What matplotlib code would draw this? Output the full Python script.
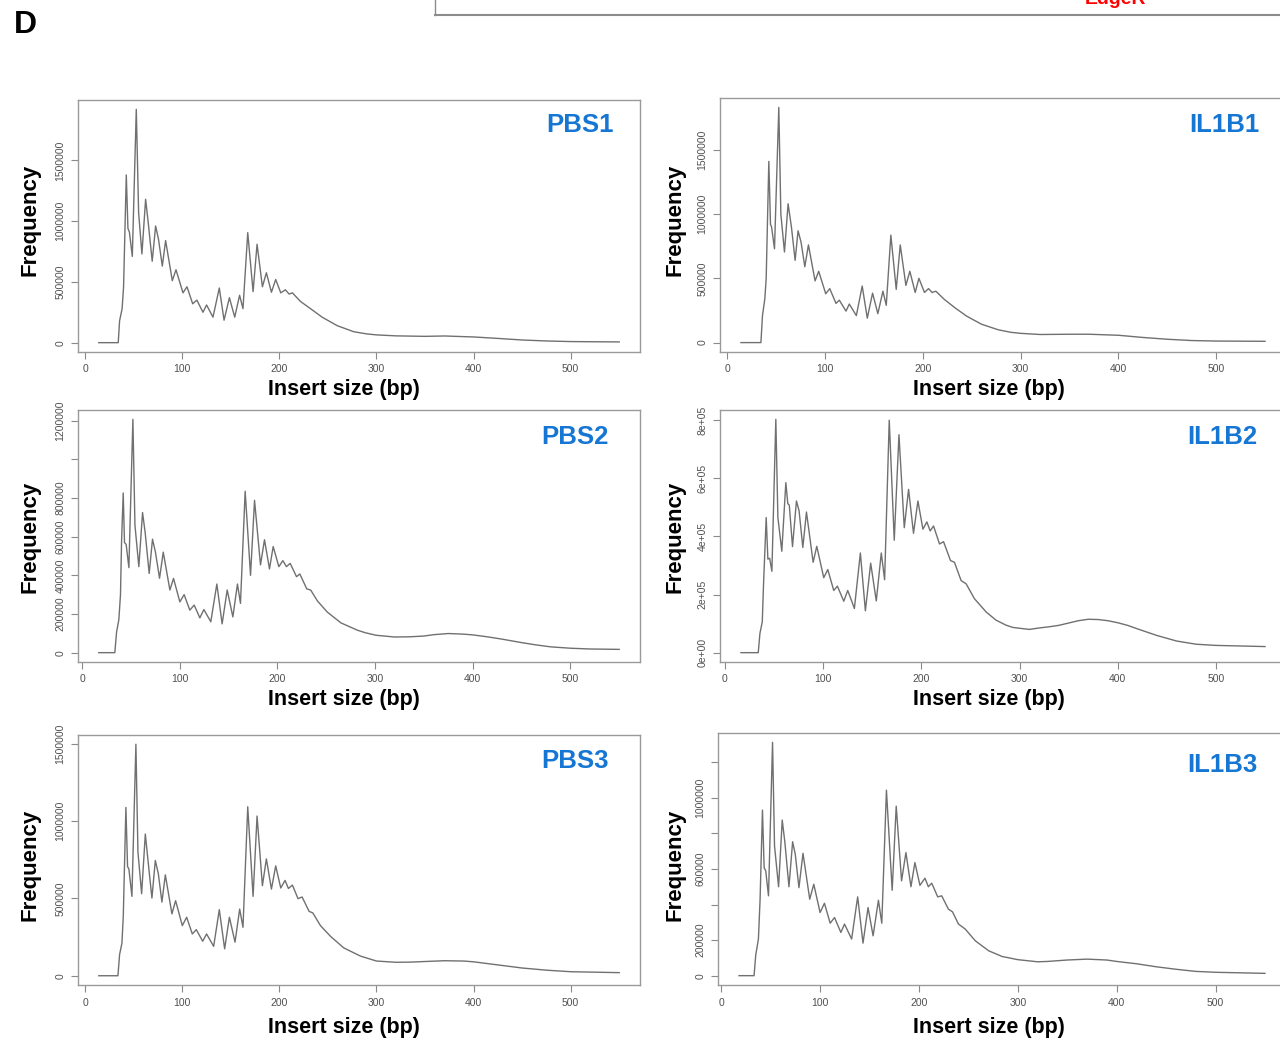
import matplotlib
matplotlib.use('Agg')
import matplotlib.pyplot as plt
from matplotlib.lines import Line2D

plt.rcParams['font.family'] = ['Liberation Sans', 'DejaVu Sans']

# insert size (bp) and frequency (thousands of fragments)
pbs1_bp = [14, 34, 35.4, 38, 39.5, 42.3, 44, 45.5, 48.5, 52.6, 55, 58.4, 62.2, 65, 69,
           72.5, 75.5, 79.4, 82.8, 89.7, 93.5, 100.7, 104.8, 110.7, 115, 121.3, 125, 131.6, 138.1, 143,
           148.5, 154, 159, 162.5, 167.4, 172.9, 177, 182.5, 186.6, 191.8, 196.2, 201.4, 206.2, 210, 213.4,
           221.6, 232, 244, 259.5, 276.6, 290, 300, 320, 350, 370, 400, 425, 450, 475, 500, 550]
pbs1_k = [0, 0, 180, 280, 460, 1380, 940, 910, 710, 1920, 1070, 730, 1180, 980, 670,
          960, 850, 630, 840, 510, 600, 410, 460, 320, 350, 250, 310, 210, 450, 185,
          370, 210, 390, 280, 905, 420, 810, 460, 575, 415, 520, 410, 435, 400, 410,
          340, 280, 210, 140, 90, 72, 64, 56, 52, 55, 47, 35, 22, 14, 9, 6]

il1b1_bp = [14, 34.4, 36, 38.4, 39.8, 42.5, 44.2, 45.3, 48.3, 52.7, 54.8, 58.5, 62.2, 65.6, 69.4,
            72.4, 75.5, 79.3, 83, 89.8, 93.5, 100.7, 104.8, 111.2, 114.6, 121.4, 124.8, 132, 138, 143.2,
            148.6, 154, 159.2, 162.6, 167.3, 172.8, 176.9, 182.7, 186.7, 192.2, 196, 201.7, 205.8, 209.5, 213.3,
            222, 233, 245, 260, 277, 290, 300, 320, 350, 370, 400, 425, 450, 475, 500, 550]
il1b1_k = [0, 0, 210, 340, 500, 1410, 920, 900, 730, 1830, 1000, 705, 1080, 900, 640,
           870, 780, 590, 760, 480, 555, 380, 420, 305, 330, 245, 300, 210, 440, 190,
           385, 225, 400, 290, 836, 414, 760, 445, 555, 390, 500, 390, 420, 390, 400,
           336, 270, 205, 143, 100, 80, 72, 63, 65, 65, 57, 40, 26, 16, 12, 10]

pbs2_bp = [17, 33.4, 35.2, 37.5, 39.2, 40.3, 42, 43.3, 45, 47.8, 51.9, 54, 58, 61.8, 64.5,
           68.6, 72, 75, 79.2, 83, 89.8, 93.5, 100, 104.4, 110.2, 114.7, 120.5, 124.6, 131.7, 137.9,
           143.3, 148.5, 154.3, 159, 162.1, 166.9, 172.4, 176.5, 182.6, 186.7, 191.8, 195.6, 201.4, 205.5, 209.2,
           213, 219.5, 222.9, 230, 234, 241, 251, 265, 282, 290, 301, 320, 335, 350, 360,
           375, 390, 400, 415, 430, 450, 465, 480, 500, 520, 550]
pbs2_k = [0, 0, 107, 170, 300, 575, 826, 570, 560, 440, 1207, 660, 445, 725, 620,
          410, 587, 520, 385, 520, 324, 384, 263, 300, 220, 246, 180, 223, 160, 355,
          149, 324, 185, 355, 255, 835, 400, 788, 454, 584, 433, 549, 445, 476, 445,
          462, 393, 407, 330, 324, 267, 210, 154, 116, 103, 90, 81, 82, 86, 93,
          99, 96, 92, 82, 70, 52, 40, 30, 23, 19, 17]

il1b2_bp = [16.3, 33.9, 35.6, 38, 39.3, 42, 43.7, 45.5, 47.8, 51.8, 53.9, 57.9, 62, 64, 65.5,
            68.8, 72.8, 75.5, 79.3, 83, 89.8, 93.5, 100.6, 104.7, 110.8, 114.5, 121, 125, 127.7, 131.8,
            137.9, 143, 148.4, 154.1, 159.2, 162.6, 167.3, 172.4, 177.2, 182.6, 187, 192, 196.5, 201.6, 205.6,
            209, 212.4, 218.5, 222.6, 229.7, 233.7, 240.5, 245.6, 254, 266, 276, 286, 293, 300, 310,
            320, 330, 340, 350, 360, 370, 380, 390, 400, 410, 420, 440, 460, 480, 500, 550]
il1b2_k = [0, 0, 66, 106, 237, 465, 322, 325, 280, 803, 465, 349, 585, 513, 508,
           365, 522, 488, 362, 484, 311, 366, 258, 286, 214, 229, 177, 214, 190, 152,
           343, 144, 308, 178, 343, 251, 800, 387, 750, 430, 562, 411, 522, 425, 450,
           419, 436, 374, 382, 317, 311, 248, 237, 186, 140, 112, 95, 87, 84, 80,
           85, 89, 94, 102, 110, 115, 114, 110, 103, 94, 82, 59, 40, 29, 25, 21]

pbs3_bp = [14, 33.7, 35.4, 37.8, 39.2, 41.9, 43.6, 45, 48.1, 52.2, 54.3, 58.1, 61.9, 64.6, 68.7,
           72.2, 75.3, 79, 82.5, 89.3, 93.1, 100, 104.5, 110.3, 114.4, 121, 125, 132.3, 138.1, 143.6,
           148.5, 154.3, 159.1, 162.5, 167.4, 172.9, 177, 182.5, 186.6, 191.8, 196.2, 201.4, 205.8, 209.3, 213.4,
           219.2, 223.4, 230.6, 234.4, 242.3, 252.6, 266.3, 283.5, 300, 320, 335, 350, 370, 390, 400,
           415, 430, 450, 475, 500, 550]
pbs3_k = [0, 0, 137, 210, 384, 1088, 706, 689, 513, 1496, 800, 530, 916, 749, 502,
          745, 660, 476, 652, 400, 485, 324, 378, 270, 298, 223, 270, 190, 427, 174,
          378, 217, 431, 313, 1092, 513, 1032, 582, 755, 560, 710, 567, 616, 564, 586,
          498, 509, 416, 406, 324, 255, 180, 127, 95, 87, 88, 92, 97, 95, 90,
          78, 66, 50, 36, 26, 20]

il1b3_bp = [18, 33.2, 34.9, 37.6, 39.3, 41.7, 43.4, 45, 47.8, 51.9, 53.9, 58, 61.7, 64.4, 68.5,
            72.2, 74.9, 78.6, 82.7, 89.5, 93.6, 100, 104.4, 110.2, 114.6, 121, 124.7, 131.9, 138, 143.4,
            148.5, 153.6, 159, 162.4, 167.1, 172.9, 177, 182.4, 186.8, 191.9, 195.9, 201, 206.1, 209.5, 212.9,
            219, 223, 229.8, 233.9, 240, 246.8, 257, 270.5, 284, 300, 310, 320, 330, 350, 370,
            390, 400, 420, 440, 460, 480, 500, 550]
il1b3_k = [0, 0, 116, 206, 430, 931, 607, 589, 449, 1312, 729, 500, 875, 748, 500,
           753, 682, 495, 688, 430, 514, 355, 407, 295, 327, 243, 290, 206, 443, 183,
           383, 224, 424, 295, 1043, 480, 953, 533, 692, 500, 636, 508, 548, 500, 520,
           443, 449, 374, 359, 290, 262, 196, 140, 108, 90, 84, 78, 80, 88, 93,
           88, 80, 67, 50, 36, 24, 19, 13]

x_ticks = [0, 100, 200, 300, 400, 500]
yt_500k = [0, 500000, 1000000, 1500000]
yt_200k = [0, 200000, 400000, 600000, 800000, 1000000, 1200000]
yt_2e5 = [0, 200000, 400000, 600000, 800000]

W, H = 1280, 1041
fig = plt.figure(figsize=(W / 100, H / 100), dpi=100)

# name, bp, freq, box (left, top, right, bottom) px, y ticks, y labels,
# name pos, "Frequency" pos, "Insert size" pos
panels = [
    ('PBS1', pbs1_bp, pbs1_k, (78, 100, 640, 352), yt_500k, [str(v) for v in yt_500k],
     (580, 125), (30, 220), (344, 389)),
    ('IL1B1', il1b1_bp, il1b1_k, (720, 98, 1286, 352), yt_500k, [str(v) for v in yt_500k],
     (1224, 125), (675, 220), (989, 389)),
    ('PBS2', pbs2_bp, pbs2_k, (78, 410, 640, 662), yt_200k,
     ['0', '200000', '400000', '600000', '800000', '', '1200000'],
     (575, 437), (30, 537), (344, 699)),
    ('IL1B2', il1b2_bp, il1b2_k, (720, 410, 1286, 662), yt_2e5,
     ['0e+00', '2e+05', '4e+05', '6e+05', '8e+05'],
     (1222, 437), (675, 537), (989, 699)),
    ('PBS3', pbs3_bp, pbs3_k, (78, 735, 640, 985), yt_500k, [str(v) for v in yt_500k],
     (575, 761), (30, 865), (344, 1028)),
    ('IL1B3', il1b3_bp, il1b3_k, (718, 733, 1286, 985), yt_200k,
     ['0', '200000', '', '600000', '', '1000000', ''],
     (1222, 765), (675, 865), (989, 1028)),
]

frame = '#9a9a9a'
for name, bp, freq_k, box, yt, ylab, npos, fpos, ipos in panels:
    l, t, r, b = box
    ax = fig.add_axes([l / W, 1 - b / H, (r - l) / W, (b - t) / H])
    ax.plot(bp, [v * 1000 for v in freq_k], color='#707070', lw=1.0, solid_joinstyle='round')
    ax.margins(x=0.04, y=0.04)
    ax.set_xticks(x_ticks)
    ax.set_xticklabels([str(v) for v in x_ticks])
    ax.set_yticks(yt)
    ax.set_yticklabels(ylab, rotation=90, va='center')
    for s in ax.spines.values():
        s.set_color(frame)
        s.set_linewidth(1.0)
    ax.tick_params(direction='out', length=5, width=0.8, color='#8a8a8a',
                   labelsize=7.5, labelcolor='#505050', pad=4)
    fig.text(fpos[0] / W, 1 - fpos[1] / H, 'Frequency', rotation=90, ha='center', va='center',
             fontsize=16, fontweight='bold')
    fig.text(ipos[0] / W, 1 - ipos[1] / H, 'Insert size (bp)', ha='center', va='center',
             fontsize=15.5, fontweight='bold')
    fig.text(npos[0] / W, 1 - npos[1] / H, name, ha='center', va='center',
             fontsize=18.5, fontweight='bold', color='#1576d3')

# panel letter and the bottom edge of the box above (its label is cut off in the source)
fig.text(25 / W, 1 - 25 / H, 'D', ha='center', va='center', fontsize=23, fontweight='bold')
fig.add_artist(Line2D([435 / W, 1], [1 - 15 / H, 1 - 15 / H], color='#8c8c8c', lw=1.5))
fig.add_artist(Line2D([435 / W, 435 / W], [1, 1 - 15 / H], color='#8c8c8c', lw=1.0))
fig.text(1115 / W, 1 - 4 / H, 'EdgeR', ha='center', va='baseline', fontsize=14,
         fontweight='bold', color='red')

fig.savefig('out.png', dpi=100)
